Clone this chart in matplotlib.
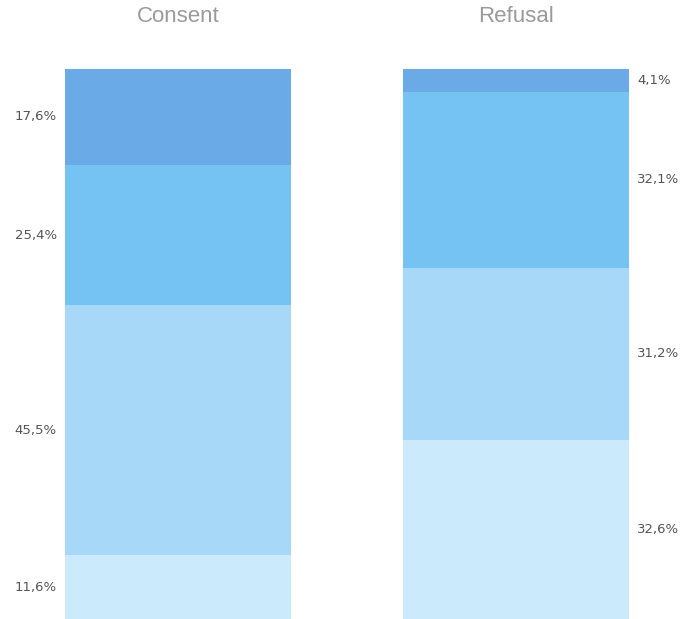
import matplotlib
matplotlib.use("Agg")
import matplotlib.pyplot as plt

groups = ["Consent", "Refusal"]
# segments from bottom to top
consent_vals = [11.6, 45.5, 25.4, 17.6]
refusal_vals = [32.6, 31.2, 32.1, 4.1]
consent_labels = ["11,6%", "45,5%", "25,4%", "17,6%"]
refusal_labels = ["32,6%", "31,2%", "32,1%", "4,1%"]
colors = ["#cbebfd", "#a7d8f8", "#74c3f3", "#6aaae6"]

fig = plt.figure(figsize=(6.8, 6.19), dpi=100)
ax = fig.add_axes([0, 0, 1, 550 / 619])
width = 0.669
xs = [0, 1]

for xi, vals, labs, side in [(xs[0], consent_vals, consent_labels, "left"),
                             (xs[1], refusal_vals, refusal_labels, "right")]:
    bottom = 0
    for v, c, lab in zip(vals, colors, labs):
        ax.bar(xi, v, width=width, bottom=bottom, color=c, linewidth=0)
        yc = bottom + v / 2
        if side == "left":
            ax.text(xi - width / 2 - 0.024, yc, lab, ha="right", va="center",
                    fontsize=9.5, color="#555555", family="DejaVu Sans")
        else:
            ax.text(xi + width / 2 + 0.024, yc, lab, ha="left", va="center",
                    fontsize=9.5, color="#555555", family="DejaVu Sans")
        bottom += v

ax.set_xlim(-178 / 338, (680 - 178) / 338)
ax.set_ylim(0, 100)
ax.axis("off")

for xi, g in zip(xs, groups):
    fig.text((178 + 338 * xi) / 680, 1 - 17 / 619, g, ha="center", va="center",
             fontsize=16, color="#9a9a9a", family="Liberation Sans")

fig.savefig("out.png", dpi=100)
